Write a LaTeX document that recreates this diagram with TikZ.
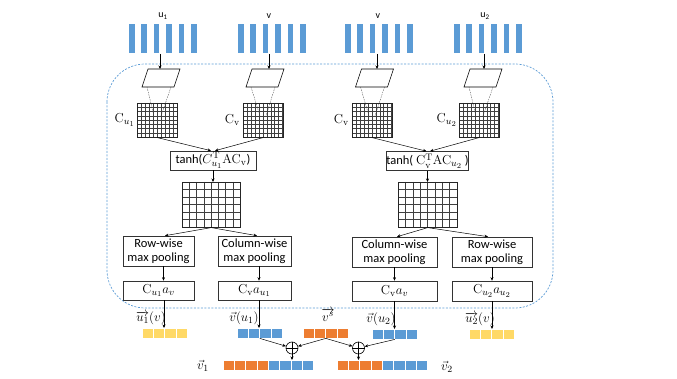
\RequirePackage{fix-cm}
\documentclass[tikz,border=0pt]{standalone}
\usepackage[no-math]{fontspec}
\setmainfont{Carlito}
\DeclareMathSizes{12.5}{13}{9.5}{7.5}
\usetikzlibrary{arrows.meta}
\definecolor{cblue}{HTML}{5B9BD5}
\definecolor{corange}{HTML}{ED7D31}
\definecolor{cyellow}{HTML}{FFD966}
% grid: name, x0, y0, w, h, nx, ny
\newcommand\mygrid[7]{%
  \foreach \k in {1,...,#6}{\draw[line width=0.3pt, black!75] (#2+\k*#4/#6,#3) -- (#2+\k*#4/#6,#3+#5);}
  \foreach \k in {1,...,#7}{\draw[line width=0.3pt, black!75] (#2,#3+\k*#5/#7) -- (#2+#4,#3+\k*#5/#7);}
  \node[draw=black!85, line width=0.6pt, minimum width=#4pt, minimum height=#5pt,
        inner sep=0pt, anchor=north west] (#1) at (#2,#3) {};}
% parallelogram: center x
\newcommand\mypara[1]{%
  \draw[line width=0.6pt, fill=white] (#1-13,69) -- (#1+19,69) -- (#1+13,87) -- (#1-19,87) -- cycle;}
% cell row: name, x0, y0, color, n
\newcommand\cellrow[5]{%
  \foreach \k in {0,...,\numexpr#5-1\relax}{\fill[#4, draw=white, line width=0.6pt] (#2+\k*11.3,#3) rectangle ++(11.3,10);}
  \node[inner sep=0pt, minimum width=#5*11.3pt, minimum height=10pt, anchor=north west] (#1) at (#2,#3) {};}
\begin{document}
\begin{tikzpicture}[x=1pt,y=-1pt,
  box/.style={draw=black!80, line width=0.6pt, inner sep=0pt, align=center,
              font=\fontsize{12.5}{14}\selectfont},
  arr/.style={-{Stealth[length=3.5pt,width=3pt]}, line width=0.5pt},
  lbl/.style={inner sep=0pt, font=\fontsize{12.5}{14}\selectfont},
  toplbl/.style={inner sep=0pt, font=\fontsize{10}{11}\selectfont},
  proj/.style={dash pattern=on 1.5pt off 1pt, line width=0.35pt, black!70}]
\useasboundingbox (0,0) rectangle (677,379);

% dashed frame
\draw[cblue, dash pattern=on 2pt off 1.5pt, line width=0.7pt, rounded corners=38pt]
  (107,64) rectangle (553,308);

% top bars
\foreach \gx in {129,238,345,454}{
  \foreach \i in {0,...,5}{\fill[cblue] (\gx+\i*12.4,24) rectangle ++(5.6,29);}}
\node[toplbl] (lu1) at (163,16) {u\textsubscript{1}};
\node[toplbl] (lv1) at (269,16) {v};
\node[toplbl] (lv2) at (378,16) {v};
\node[toplbl] (lu2) at (485,16) {u\textsubscript{2}};

% parallelograms
\mypara{161}\mypara{265}\mypara{374.5}\mypara{483}
\coordinate (s1) at (160,54);   \coordinate (p1) at (160,69);
\coordinate (s2) at (269,54);   \coordinate (p2) at (269,69);
\coordinate (s3) at (377,54);   \coordinate (p3) at (377,69);
\coordinate (s4) at (484,54);   \coordinate (p4) at (484,69);
\foreach \k in {1,...,4}{\draw[arr] (s\k) -- (p\k);}

% projection dashed lines
\draw[proj] (147,87) -- (154,116) (171,87) -- (161,116);
\draw[proj] (251,87) -- (260,116) (275,87) -- (266,116);
\draw[proj] (360.5,87) -- (369,116) (384.5,87) -- (375,116);
\draw[proj] (469,87) -- (476,116) (493,87) -- (483,116);

% small grids
\mygrid{g1}{137}{103}{40}{34}{10}{8}
\mygrid{g2}{243}{103}{39.5}{34}{10}{8}
\mygrid{g3}{352}{103}{39.5}{34}{10}{8}
\mygrid{g4}{459}{103}{39.5}{34}{10}{8}
\node[lbl, anchor=east] (cg1) at ([xshift=-2pt]g1.west) {$\mathrm{C}_{u_1}$};
\node[lbl, anchor=east] (cg2) at ([xshift=-3pt]g2.west) {$\mathrm{C}_{\mathrm{v}}$};
\node[lbl, anchor=east] (cg3) at ([xshift=-3pt]g3.west) {$\mathrm{C}_{\mathrm{v}}$};
\node[lbl, anchor=east] (cg4) at ([xshift=-2pt]g4.west) {$\mathrm{C}_{u_2}$};

% tanh boxes
\node[box, minimum width=86pt, minimum height=19pt] (t1) at (213,160.5)
  {tanh($C_{u_1}^{\mathrm{T}}\mathrm{AC}_{\mathrm{v}}$)};
\node[box, minimum width=81pt, minimum height=19pt] (t2) at (427.5,161)
  {tanh( $\mathrm{C}_{\mathrm{v}}^{\mathrm{T}}\mathrm{AC}_{u_2}$ )};
\draw[arr] (g1.south) -- ([xshift=-2pt]t1.north);
\draw[arr] (g2.south) -- ([xshift=2pt]t1.north);
\draw[arr] (g3.south) -- ([xshift=-1pt]t2.north);
\draw[arr] (g4.south) -- ([xshift=2.5pt]t2.north);

% big matrices
\mygrid{m1}{182}{182}{58}{45}{8}{6}
\mygrid{m2}{398}{182}{59}{45}{8}{6}
\draw[arr] (t1.south) -- (t1.south |- m1.north);
\draw[arr] (t2.south) -- (t2.south |- m2.north);

% pooling boxes
\node[box, minimum width=71pt, minimum height=30pt] (r1) at (158.5,251) {Row-wise\\max pooling};
\node[box, minimum width=73pt, minimum height=30pt] (c1) at (254.5,251) {Column-wise\\max pooling};
\node[box, minimum width=85pt, minimum height=30pt] (c2) at (394.5,252) {Column-wise\\max pooling};
\node[box, minimum width=80pt, minimum height=30pt] (r2) at (492,252) {Row-wise\\max pooling};
\draw[arr] (m1.south) -- ([xshift=6.5pt]r1.north);
\draw[arr] (m1.south) -- ([xshift=2.5pt]c1.north);
\draw[arr] (m2.south) -- ([xshift=2.5pt]c2.north);
\draw[arr] (m2.south) -- ([xshift=-4pt]r2.north);

% result boxes
\node[box, minimum width=71pt, minimum height=19pt] (o1) at (158.5,290.5) {$\mathrm{C}_{u_1}a_v$};
\node[box, minimum width=73pt, minimum height=19pt] (o2) at (254.5,290.5) {$\mathrm{C}_{\mathrm{v}}a_{u_1}$};
\node[box, minimum width=85pt, minimum height=20pt] (o3) at (394.5,291) {$\mathrm{C}_{\mathrm{v}}a_v$};
\node[box, minimum width=80pt, minimum height=20pt] (o4) at (492,291) {$\mathrm{C}_{u_2}a_{u_2}$};
\draw[arr] ([xshift=5pt]r1.south) -- ([xshift=5pt]o1.north);
\draw[arr] ([xshift=4.5pt]c1.south) -- ([xshift=4.5pt]o2.north);
\draw[arr] (c2.south) -- (o3.north);
\draw[arr] (r2.south) -- (o4.north);

% bottom vectors
\cellrow{y1}{142}{328}{cyellow}{4}
\cellrow{b1}{237}{328}{cblue}{4}
\cellrow{vs}{303}{328}{corange}{4}
\cellrow{b2}{372}{329}{cblue}{4}
\cellrow{y2}{469}{329}{cyellow}{4}
\cellrow{v1o}{223}{360}{corange}{4}
\cellrow{v1b}{268.2}{360}{cblue}{4}
\cellrow{v2o}{337}{360}{corange}{4}
\cellrow{v2b}{382.2}{360}{cblue}{4}

\draw[arr] ([xshift=5.5pt]o1.south) -- ([xshift=5.5pt]o1.south |- y1.north);
\draw[arr] ([xshift=4.5pt]o2.south) -- ([xshift=4.5pt]o2.south |- b1.north);
\draw[arr] (o3.south) -- (o3.south |- b2.north);
\draw[arr] (o4.south) -- (o4.south |- y2.north);

\node[lbl] (lab1) at (151,318) {$\overrightarrow{u_1}(v)$};
\node[lbl] (lab2) at (244,318) {$\vec{v}(u_1)$};
\node[lbl] (lab3) at (328,315) {$\overrightarrow{v^s}$};
\node[lbl] (lab4) at (381,319) {$\vec{v}(u_2)$};
\node[lbl] (lab5) at (480,319) {$\overrightarrow{u_2}(v)$};
\node[lbl] (lab6) at (203,366) {$\vec{v}_1$};
\node[lbl] (lab7) at (447,367) {$\vec{v}_2$};

% oplus
\node[circle, draw, line width=0.6pt, minimum size=12pt, inner sep=0pt] (op1) at (292,348) {};
\node[circle, draw, line width=0.6pt, minimum size=12pt, inner sep=0pt] (op2) at (358.5,348) {};
\draw[line width=0.5pt] (op1.north) -- (op1.south) (op1.west) -- (op1.east);
\draw[line width=0.5pt] (op2.north) -- (op2.south) (op2.west) -- (op2.east);
\draw[arr] (b1.south) -- (op1);
\draw[arr] (vs.south) -- (op1);
\draw[arr] (vs.south) -- (op2);
\draw[arr] (b2.south) -- (op2);
\draw[arr] (op1.south) -- (op1.south |- v1b.north);
\draw[arr] (op2.south) -- (op2.south |- v2o.north);
\end{tikzpicture}
\end{document}
